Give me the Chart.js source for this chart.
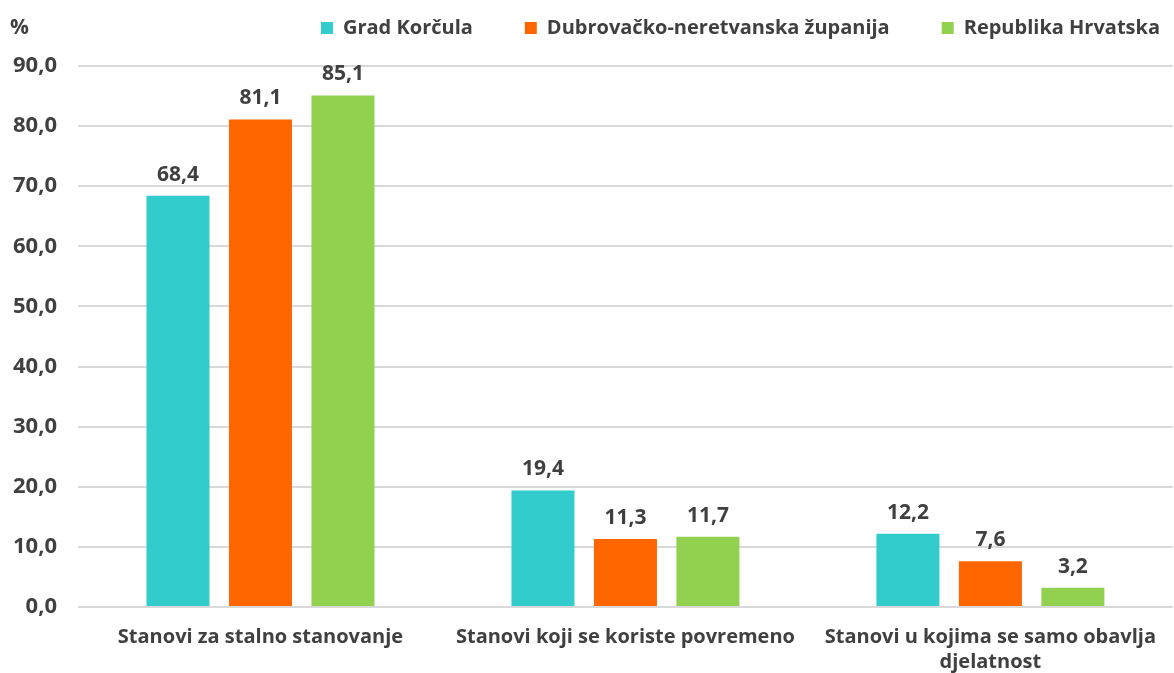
<!DOCTYPE html>
<html>
<head>
<meta charset="utf-8">
<script src="https://cdn.jsdelivr.net/npm/chart.js@4.4.0/dist/chart.umd.min.js"></script>
<style>
  html,body{margin:0;padding:0;background:#fff;}
  #wrap{position:relative;width:1174px;height:673px;}
</style>
</head>
<body>
<div id="wrap"><canvas id="c" width="1174" height="673"></canvas></div>
<script>
const categories = [
  ["Stanovi za stalno stanovanje"],
  ["Stanovi koji se koriste povremeno"],
  ["Stanovi u kojima se samo obavlja", "djelatnost"]
];
const seriesNames = ["Grad Korčula", "Dubrovačko-neretvanska županija", "Republika Hrvatska"];
const gradKorcula = [68.4, 19.4, 12.2];
const dubrovackoNeretvanska = [81.1, 11.3, 7.6];
const republikaHrvatska = [85.1, 11.7, 3.2];
const colors = ["#33CCCC", "#FF6600", "#92D050"];
const axisUnit = "%";

const FONT = "'Open Sans', 'Noto Sans', sans-serif";
const TXT = "#404040";
const LEG_PAD = 52;
const fmt = v => v.toFixed(1).replace('.', ',');

const valueLabels = {
  id: 'valueLabels',
  afterDatasetsDraw(chart) {
    const ctx = chart.ctx;
    ctx.save();
    ctx.font = "bold 21px " + FONT;
    ctx.fillStyle = TXT;
    ctx.textAlign = 'center';
    ctx.textBaseline = 'alphabetic';
    chart.data.datasets.forEach((ds, i) => {
      chart.getDatasetMeta(i).data.forEach((bar, j) => {
        ctx.fillText(fmt(ds.data[j]), bar.x, bar.y - 15);
      });
    });
    ctx.restore();
  }
};
const unitLabel = {
  id: 'unitLabel',
  afterDraw(chart) {
    const ctx = chart.ctx;
    ctx.save();
    ctx.font = "bold 21px " + FONT;
    ctx.fillStyle = TXT;
    ctx.textAlign = 'left';
    ctx.textBaseline = 'middle';
    ctx.fillText(axisUnit, 10, 28);
    ctx.restore();
  }
};
const legendTune = {
  id: 'legendTune',
  beforeLayout(chart) {
    const lg = chart.legend;
    if (lg && !lg._tuned) {
      const f = lg.fit;
      lg.fit = function () { f.call(this); this.height = 66; };
      lg._tuned = true;
    }
  },
  afterLayout(chart) {
    const lg = chart.legend;
    if (lg) {
      lg.top = 30 - LEG_PAD - 12;
      lg.right = 1160 + LEG_PAD;
    }
  }
};

new Chart(document.getElementById('c'), {
  type: 'bar',
  data: {
    labels: categories,
    datasets: [
      {label: seriesNames[0], data: gradKorcula, backgroundColor: colors[0]},
      {label: seriesNames[1], data: dubrovackoNeretvanska, backgroundColor: colors[1]},
      {label: seriesNames[2], data: republikaHrvatska, backgroundColor: colors[2]}
    ]
  },
  options: {
    responsive: false,
    animation: false,
    devicePixelRatio: 1,
    categoryPercentage: 0.678,
    barPercentage: 0.764,
    layout: {padding: {top: 0, right: 0, left: 0, bottom: 0}},
    plugins: {
      legend: {
        position: 'top',
        align: 'end',
        labels: {
          font: {family: FONT, size: 20, weight: 'bold'},
          color: TXT,
          boxWidth: 12,
          boxHeight: 12,
          padding: LEG_PAD
        }
      },
      tooltip: {enabled: false}
    },
    scales: {
      x: {
        grid: {display: false, drawTicks: false},
        border: {display: false},
        afterFit(scale) { scale.height = 66; },
        ticks: {
          font: {family: FONT, size: 20, weight: 'bold', lineHeight: 1.25},
          color: TXT,
          maxRotation: 0,
          autoSkip: false,
          padding: 18
        }
      },
      y: {
        min: 0,
        max: 90,
        afterFit(scale) { scale.width = 78; },
        ticks: {
          stepSize: 10,
          font: {family: FONT, size: 22, weight: 'bold'},
          color: TXT,
          padding: 21,
          callback: v => fmt(v)
        },
        grid: {color: '#D9D9D9', lineWidth: 2, drawTicks: false},
        border: {display: false}
      }
    }
  },
  plugins: [legendTune, valueLabels, unitLabel]
});
</script>
</body>
</html>
